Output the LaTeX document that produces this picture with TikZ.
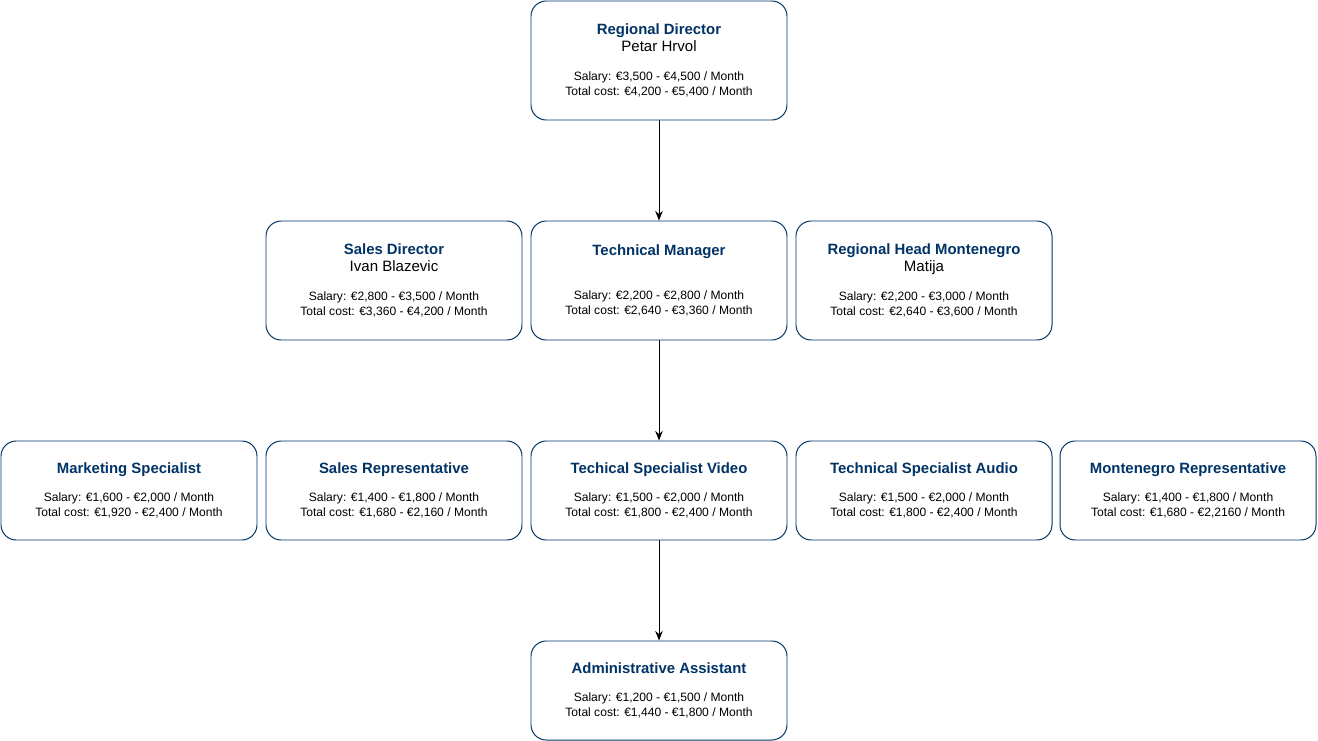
\documentclass[tikz,border=0pt]{standalone}
\usepackage{fontspec}
\setmainfont{Liberation Sans}
\usetikzlibrary{arrows.meta}
\definecolor{navy}{RGB}{0,51,102}
\pgfdeclarelayer{bg}
\pgfsetlayers{bg,main}
\newcommand{\ttl}[1]{{\fontsize{10.6}{12.8}\selectfont\bfseries\color{navy}#1}}
\newcommand{\nm}[1]{{\fontsize{10.7}{12.8}\selectfont #1}}
\tikzset{
    every node/.style={draw=navy, line width=0.7pt, rounded corners=0.38cm, fill=white,
        align=center, minimum width=6.4cm, inner sep=0mm, font=\fontsize{8.6}{10.6}\selectfont}
}
\tikzset{tall/.style={minimum height=2.975cm}, short/.style={minimum height=2.475cm}}
\tikzset{link/.style={-{Stealth[length=2.4mm, width=1.9mm]}, line width=0.7pt}}

\begin{document}
\begin{tikzpicture}
        \useasboundingbox (0cm, 0cm) rectangle (32.950000cm, -18.525000cm);
        \node (rd) [tall] at (16.475000cm, -1.512500cm) {\ttl{Regional Director}\\[1.6pt] \nm{Petar Hrvol}\\[10pt] Salary: €3,500 - €4,500 / Month\\ Total cost: €4,200 - €5,400 / Month};
        \node (sd) [tall] at (9.850000cm, -7.012500cm) {\ttl{Sales Director}\\[1.6pt] \nm{Ivan Blazevic}\\[10pt] Salary: €2,800 - €3,500 / Month\\ Total cost: €3,360 - €4,200 / Month};
        \node (tm) [tall] at (16.475000cm, -7.012500cm) {\ttl{Technical Manager}\\[20.5pt] Salary: €2,200 - €2,800 / Month\\ Total cost: €2,640 - €3,360 / Month};
        \node (rh) [tall] at (23.100000cm, -7.012500cm) {\ttl{Regional Head Montenegro}\\[1.6pt] \nm{Matija}\\[10pt] Salary: €2,200 - €3,000 / Month\\ Total cost: €2,640 - €3,600 / Month};
        \node (ms) [short] at (3.225000cm, -12.262500cm) {\ttl{Marketing Specialist}\\[9pt] Salary: €1,600 - €2,000 / Month\\ Total cost: €1,920 - €2,400 / Month};
        \node (sr) [short] at (9.850000cm, -12.262500cm) {\ttl{Sales Representative}\\[9pt] Salary: €1,400 - €1,800 / Month\\ Total cost: €1,680 - €2,160 / Month};
        \node (tsv) [short] at (16.475000cm, -12.262500cm) {\ttl{Techical Specialist Video}\\[9pt] Salary: €1,500 - €2,000 / Month\\ Total cost: €1,800 - €2,400 / Month};
        \node (tsa) [short] at (23.100000cm, -12.262500cm) {\ttl{Technical Specialist Audio}\\[9pt] Salary: €1,500 - €2,000 / Month\\ Total cost: €1,800 - €2,400 / Month};
        \node (mr) [short] at (29.700000cm, -12.262500cm) {\ttl{Montenegro Representative}\\[9pt] Salary: €1,400 - €1,800 / Month\\ Total cost: €1,680 - €2,2160 / Month};
        \node (aa) [short] at (16.475000cm, -17.262500cm) {\ttl{Administrative Assistant}\\[9pt] Salary: €1,200 - €1,500 / Month\\ Total cost: €1,440 - €1,800 / Month};
        \begin{pgfonlayer}{bg}
                \draw (rd) edge [link] (tm);
                \draw (tm) edge [link] (tsv);
                \draw (tsv) edge [link] (aa);
        \end{pgfonlayer}
\end{tikzpicture}
\end{document}
